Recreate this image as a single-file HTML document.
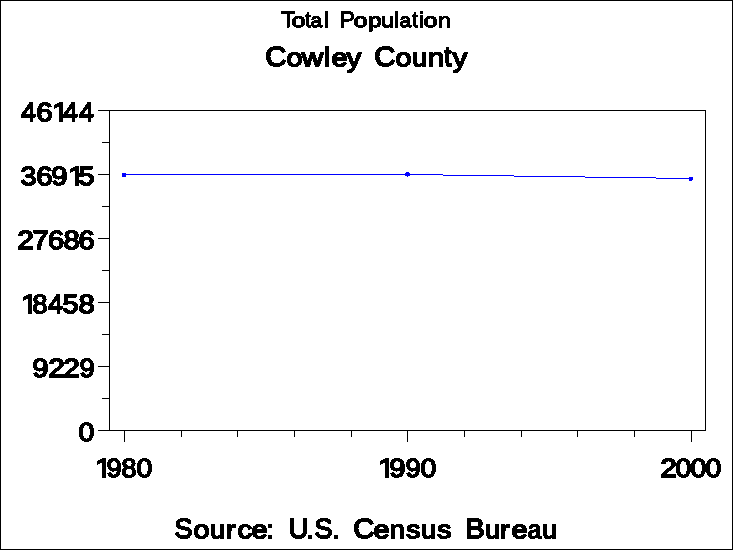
<!DOCTYPE html>
<html lang="en">
<head>
<meta charset="utf-8">
<title>Total Population - Cowley County</title>
<style>
html, body { margin: 0; padding: 0; background: #ffffff; }
body { width: 733px; height: 550px; overflow: hidden; }
svg { display: block; }
text { font-family: "Liberation Sans", "DejaVu Sans", sans-serif; fill: #000000; stroke: #000000; stroke-linejoin: round; white-space: pre; text-rendering: geometricPrecision; }
</style>
</head>
<body>
<svg width="733" height="550" viewBox="0 0 733 550" role="img" aria-label="Total Population, Cowley County, line chart">
<desc>Line chart of total population for Cowley County. Y axis from 0 to 46144 (ticks 0, 9229, 18458, 27686, 36915, 46144); X axis years 1980, 1990, 2000. Source: U.S. Census Bureau</desc>
<defs>
<filter id="bw" x="0" y="0" width="733" height="550" filterUnits="userSpaceOnUse" color-interpolation-filters="sRGB">
<feComponentTransfer><feFuncA type="discrete" tableValues="0 0 1 1 1"/></feComponentTransfer>
</filter>
</defs>
<g shape-rendering="crispEdges">
<!-- background and outer border -->
<rect x="0" y="0" width="733" height="550" fill="#fff"/>
<rect x="0" y="0" width="733" height="1" fill="#000"/>
<rect x="0" y="549" width="733" height="1" fill="#000"/>
<rect x="0" y="0" width="1" height="550" fill="#000"/>
<rect x="732" y="0" width="1" height="550" fill="#000"/>
<!-- plot frame -->
<rect x="109" y="110" width="597" height="1" fill="#000"/>
<rect x="109" y="430" width="597" height="1" fill="#000"/>
<rect x="109" y="110" width="1" height="321" fill="#000"/>
<rect x="705" y="110" width="1" height="321" fill="#000"/>
<!-- y axis ticks -->
<rect x="98" y="110" width="11" height="1" fill="#000"/>
<rect x="98" y="174" width="11" height="1" fill="#000"/>
<rect x="98" y="238" width="11" height="1" fill="#000"/>
<rect x="98" y="302" width="11" height="1" fill="#000"/>
<rect x="98" y="366" width="11" height="1" fill="#000"/>
<rect x="98" y="430" width="11" height="1" fill="#000"/>
<rect x="102" y="142" width="7" height="1" fill="#000"/>
<rect x="102" y="206" width="7" height="1" fill="#000"/>
<rect x="102" y="270" width="7" height="1" fill="#000"/>
<rect x="102" y="334" width="7" height="1" fill="#000"/>
<rect x="102" y="398" width="7" height="1" fill="#000"/>
<!-- x axis ticks -->
<rect x="124" y="431" width="1" height="11" fill="#000"/>
<rect x="407" y="431" width="1" height="11" fill="#000"/>
<rect x="691" y="431" width="1" height="11" fill="#000"/>
<rect x="181" y="431" width="1" height="6" fill="#000"/>
<rect x="237" y="431" width="1" height="6" fill="#000"/>
<rect x="294" y="431" width="1" height="6" fill="#000"/>
<rect x="351" y="431" width="1" height="6" fill="#000"/>
<rect x="464" y="431" width="1" height="6" fill="#000"/>
<rect x="521" y="431" width="1" height="6" fill="#000"/>
<rect x="577" y="431" width="1" height="6" fill="#000"/>
<rect x="634" y="431" width="1" height="6" fill="#000"/>
<!-- data line -->
<rect x="124" y="174" width="319" height="1" fill="#0000ff"/>
<rect x="443" y="175" width="71" height="1" fill="#0000ff"/>
<rect x="514" y="176" width="71" height="1" fill="#0000ff"/>
<rect x="585" y="177" width="71" height="1" fill="#0000ff"/>
<rect x="656" y="178" width="36" height="1" fill="#0000ff"/>
<!-- data markers -->
<rect x="122" y="173" width="4" height="4" fill="#0000ff"/>
<rect x="406" y="172" width="3" height="1" fill="#0000ff"/>
<rect x="405" y="173" width="5" height="3" fill="#0000ff"/>
<rect x="407" y="176" width="1" height="1" fill="#0000ff"/>
<rect x="689" y="177" width="4" height="3" fill="#0000ff"/>
<rect x="689" y="180" width="3" height="1" fill="#0000ff"/>
</g>
<g class="t" filter="url(#bw)">
<text stroke-width="1"><tspan x="281.39" y="27" font-size="22.53" textLength="13.83" lengthAdjust="spacingAndGlyphs">T</tspan><tspan x="291.43" y="27" font-size="19.51" textLength="14.13" lengthAdjust="spacingAndGlyphs">o</tspan><tspan x="305.2" y="27" font-size="22.43" textLength="5.44" lengthAdjust="spacingAndGlyphs">t</tspan><tspan x="310.59" y="27" font-size="19.51" textLength="11.91" lengthAdjust="spacingAndGlyphs">a</tspan><tspan x="323.97" y="27" font-size="21.39" textLength="5.06" lengthAdjust="spacingAndGlyphs">l</tspan> <tspan x="339.65" y="27" font-size="22.53" textLength="15.04" lengthAdjust="spacingAndGlyphs">P</tspan><tspan x="353.43" y="27" font-size="19.51" textLength="14.13" lengthAdjust="spacingAndGlyphs">o</tspan><tspan x="367.92" y="27" font-size="19.53" textLength="13.6" lengthAdjust="spacingAndGlyphs">p</tspan><tspan x="380.97" y="27" font-size="19.87" textLength="13.09" lengthAdjust="spacingAndGlyphs">u</tspan><tspan x="393.97" y="27" font-size="21.39" textLength="5.06" lengthAdjust="spacingAndGlyphs">l</tspan><tspan x="399.59" y="27" font-size="19.51" textLength="11.91" lengthAdjust="spacingAndGlyphs">a</tspan><tspan x="412.2" y="27" font-size="22.43" textLength="5.44" lengthAdjust="spacingAndGlyphs">t</tspan><tspan x="418.98" y="27" font-size="21.39" textLength="5.06" lengthAdjust="spacingAndGlyphs">i</tspan><tspan x="423.43" y="27" font-size="19.51" textLength="14.13" lengthAdjust="spacingAndGlyphs">o</tspan><tspan x="437.94" y="27" font-size="19.51" textLength="13.09" lengthAdjust="spacingAndGlyphs">n</tspan></text>
<text stroke-width="1.4"><tspan x="265.21" y="66" font-size="27.64" textLength="21.21" lengthAdjust="spacingAndGlyphs">C</tspan><tspan x="286.49" y="66" font-size="24.72" textLength="16.02" lengthAdjust="spacingAndGlyphs">o</tspan><tspan x="301.74" y="66" font-size="25.17" textLength="21.48" lengthAdjust="spacingAndGlyphs">w</tspan><tspan x="323.71" y="66" font-size="26.64" textLength="6.57" lengthAdjust="spacingAndGlyphs">l</tspan><tspan x="331.47" y="66" font-size="24.72" textLength="16.12" lengthAdjust="spacingAndGlyphs">e</tspan><tspan x="346.63" y="67" font-size="27.07" textLength="14.73" lengthAdjust="spacingAndGlyphs">y</tspan> <tspan x="374.21" y="66" font-size="27.64" textLength="21.21" lengthAdjust="spacingAndGlyphs">C</tspan><tspan x="395.49" y="66" font-size="24.72" textLength="16.02" lengthAdjust="spacingAndGlyphs">o</tspan><tspan x="411.93" y="66" font-size="25.17" textLength="15.19" lengthAdjust="spacingAndGlyphs">u</tspan><tspan x="427.73" y="66" font-size="24.72" textLength="16.5" lengthAdjust="spacingAndGlyphs">n</tspan><tspan x="444.31" y="66" font-size="28.31" textLength="7.18" lengthAdjust="spacingAndGlyphs">t</tspan><tspan x="452.63" y="67" font-size="27.07" textLength="14.73" lengthAdjust="spacingAndGlyphs">y</tspan></text>
<text stroke-width="1.4"><tspan x="174.47" y="538" font-size="27.64" textLength="18.07" lengthAdjust="spacingAndGlyphs">S</tspan><tspan x="193.49" y="538" font-size="24.72" textLength="16.02" lengthAdjust="spacingAndGlyphs">o</tspan><tspan x="209.93" y="538" font-size="25.17" textLength="15.19" lengthAdjust="spacingAndGlyphs">u</tspan><tspan x="225.68" y="538" font-size="24.72" textLength="10.12" lengthAdjust="spacingAndGlyphs">r</tspan><tspan x="237.46" y="538" font-size="24.72" textLength="14.61" lengthAdjust="spacingAndGlyphs">c</tspan><tspan x="251.47" y="538" font-size="24.72" textLength="16.12" lengthAdjust="spacingAndGlyphs">e</tspan><tspan x="266.21" y="538" font-size="25.17" textLength="7.59" lengthAdjust="spacingAndGlyphs">:</tspan> <tspan x="288.58" y="538" font-size="28.05" textLength="19.84" lengthAdjust="spacingAndGlyphs">U</tspan><tspan x="306.21" y="538" font-size="21.51" textLength="7.59" lengthAdjust="spacingAndGlyphs">.</tspan><tspan x="314.47" y="538" font-size="27.64" textLength="18.07" lengthAdjust="spacingAndGlyphs">S</tspan><tspan x="332.21" y="538" font-size="21.51" textLength="7.59" lengthAdjust="spacingAndGlyphs">.</tspan> <tspan x="353.21" y="538" font-size="27.64" textLength="21.21" lengthAdjust="spacingAndGlyphs">C</tspan><tspan x="373.47" y="538" font-size="24.72" textLength="16.12" lengthAdjust="spacingAndGlyphs">e</tspan><tspan x="389.89" y="538" font-size="24.72" textLength="15.19" lengthAdjust="spacingAndGlyphs">n</tspan><tspan x="405.9" y="538" font-size="24.78" textLength="14.45" lengthAdjust="spacingAndGlyphs">s</tspan><tspan x="420.93" y="538" font-size="25.17" textLength="15.19" lengthAdjust="spacingAndGlyphs">u</tspan><tspan x="436.9" y="538" font-size="24.78" textLength="14.45" lengthAdjust="spacingAndGlyphs">s</tspan> <tspan x="465.3" y="538" font-size="28.05" textLength="19.55" lengthAdjust="spacingAndGlyphs">B</tspan><tspan x="484.93" y="538" font-size="25.17" textLength="15.19" lengthAdjust="spacingAndGlyphs">u</tspan><tspan x="499.68" y="538" font-size="24.72" textLength="10.12" lengthAdjust="spacingAndGlyphs">r</tspan><tspan x="511.47" y="538" font-size="24.72" textLength="16.12" lengthAdjust="spacingAndGlyphs">e</tspan><tspan x="527.66" y="538" font-size="24.72" textLength="13.64" lengthAdjust="spacingAndGlyphs">a</tspan><tspan x="541.93" y="538" font-size="25.17" textLength="15.19" lengthAdjust="spacingAndGlyphs">u</tspan></text>
<text stroke-width="1.4"><tspan x="21.08" y="121" font-size="26.6" textLength="15.01" lengthAdjust="spacingAndGlyphs">4</tspan><tspan x="36.2" y="121" font-size="26.21" textLength="16.39" lengthAdjust="spacingAndGlyphs">6</tspan><tspan x="51.7" y="121" font-size="26.6" textLength="17.35" lengthAdjust="spacingAndGlyphs">1</tspan><tspan x="63.08" y="121" font-size="26.6" textLength="15.01" lengthAdjust="spacingAndGlyphs">4</tspan><tspan x="79.08" y="121" font-size="26.6" textLength="15.01" lengthAdjust="spacingAndGlyphs">4</tspan></text>
<text stroke-width="1.4"><tspan x="20.61" y="185" font-size="26.21" textLength="15.95" lengthAdjust="spacingAndGlyphs">3</tspan><tspan x="36.2" y="185" font-size="26.21" textLength="16.39" lengthAdjust="spacingAndGlyphs">6</tspan><tspan x="51.32" y="185" font-size="26.21" textLength="16.37" lengthAdjust="spacingAndGlyphs">9</tspan><tspan x="67.7" y="185" font-size="26.6" textLength="17.35" lengthAdjust="spacingAndGlyphs">1</tspan><tspan x="78.55" y="185" font-size="26.6" textLength="15.95" lengthAdjust="spacingAndGlyphs">5</tspan></text>
<text stroke-width="1.4"><tspan x="17.2" y="249" font-size="26.21" textLength="16.6" lengthAdjust="spacingAndGlyphs">2</tspan><tspan x="32.17" y="249" font-size="26.6" textLength="16.64" lengthAdjust="spacingAndGlyphs">7</tspan><tspan x="47.93" y="249" font-size="26.21" textLength="16.15" lengthAdjust="spacingAndGlyphs">6</tspan><tspan x="63.44" y="249" font-size="26.21" textLength="16.12" lengthAdjust="spacingAndGlyphs">8</tspan><tspan x="78.43" y="249" font-size="26.21" textLength="16.15" lengthAdjust="spacingAndGlyphs">6</tspan></text>
<text stroke-width="1.4"><tspan x="20.7" y="313" font-size="26.6" textLength="17.35" lengthAdjust="spacingAndGlyphs">1</tspan><tspan x="32.53" y="313" font-size="26.21" textLength="14.93" lengthAdjust="spacingAndGlyphs">8</tspan><tspan x="48.08" y="313" font-size="26.6" textLength="15.01" lengthAdjust="spacingAndGlyphs">4</tspan><tspan x="62.55" y="313" font-size="26.6" textLength="15.95" lengthAdjust="spacingAndGlyphs">5</tspan><tspan x="78.44" y="313" font-size="26.21" textLength="16.12" lengthAdjust="spacingAndGlyphs">8</tspan></text>
<text stroke-width="1.4"><tspan x="32.32" y="377" font-size="26.21" textLength="16.37" lengthAdjust="spacingAndGlyphs">9</tspan><tspan x="48.2" y="377" font-size="26.21" textLength="16.6" lengthAdjust="spacingAndGlyphs">2</tspan><tspan x="63.2" y="377" font-size="26.21" textLength="16.6" lengthAdjust="spacingAndGlyphs">2</tspan><tspan x="79.42" y="377" font-size="26.21" textLength="15.17" lengthAdjust="spacingAndGlyphs">9</tspan></text>
<text stroke-width="1.4"><tspan x="78.59" y="441" font-size="26.21" textLength="15.82" lengthAdjust="spacingAndGlyphs">0</tspan></text>
<text stroke-width="1.4"><tspan x="94.7" y="477" font-size="26.6" textLength="17.35" lengthAdjust="spacingAndGlyphs">1</tspan><tspan x="106.42" y="477" font-size="26.21" textLength="15.17" lengthAdjust="spacingAndGlyphs">9</tspan><tspan x="121.53" y="477" font-size="26.21" textLength="14.93" lengthAdjust="spacingAndGlyphs">8</tspan><tspan x="136.59" y="477" font-size="26.21" textLength="15.82" lengthAdjust="spacingAndGlyphs">0</tspan></text>
<text stroke-width="1.4"><tspan x="377.7" y="477" font-size="26.6" textLength="17.35" lengthAdjust="spacingAndGlyphs">1</tspan><tspan x="389.32" y="477" font-size="26.21" textLength="16.37" lengthAdjust="spacingAndGlyphs">9</tspan><tspan x="405.42" y="477" font-size="26.21" textLength="15.17" lengthAdjust="spacingAndGlyphs">9</tspan><tspan x="420.59" y="477" font-size="26.21" textLength="15.82" lengthAdjust="spacingAndGlyphs">0</tspan></text>
<text stroke-width="1.4"><tspan x="660.2" y="477" font-size="26.21" textLength="16.6" lengthAdjust="spacingAndGlyphs">2</tspan><tspan x="675.59" y="477" font-size="26.21" textLength="15.82" lengthAdjust="spacingAndGlyphs">0</tspan><tspan x="690.59" y="477" font-size="26.21" textLength="15.82" lengthAdjust="spacingAndGlyphs">0</tspan><tspan x="705.59" y="477" font-size="26.21" textLength="15.82" lengthAdjust="spacingAndGlyphs">0</tspan></text>
</g>
<g shape-rendering="crispEdges" fill="#fff"><rect x="22" y="311" width="6" height="2"/><rect x="23" y="310" width="5" height="1"/><rect x="23" y="313" width="5" height="1"/><rect x="32" y="310" width="1" height="1"/><rect x="32" y="311" width="2" height="1"/><rect x="32" y="312" width="3" height="1"/><rect x="32" y="313" width="4" height="1"/><rect x="53" y="119" width="6" height="2"/><rect x="54" y="118" width="5" height="1"/><rect x="54" y="121" width="5" height="1"/><rect x="63" y="118" width="5" height="4"/><rect x="69" y="183" width="6" height="2"/><rect x="70" y="182" width="5" height="1"/><rect x="70" y="185" width="5" height="1"/><rect x="79" y="183" width="1" height="1"/><rect x="79" y="184" width="2" height="1"/><rect x="79" y="185" width="4" height="1"/><rect x="96" y="475" width="6" height="2"/><rect x="97" y="474" width="5" height="1"/><rect x="97" y="477" width="5" height="1"/><rect x="106" y="474" width="2" height="2"/><rect x="106" y="476" width="3" height="1"/><rect x="106" y="477" width="5" height="1"/><rect x="379" y="475" width="6" height="2"/><rect x="380" y="474" width="5" height="1"/><rect x="380" y="477" width="5" height="1"/><rect x="389" y="474" width="2" height="2"/><rect x="389" y="476" width="3" height="1"/><rect x="389" y="477" width="5" height="1"/></g>
</svg>
</body>
</html>
